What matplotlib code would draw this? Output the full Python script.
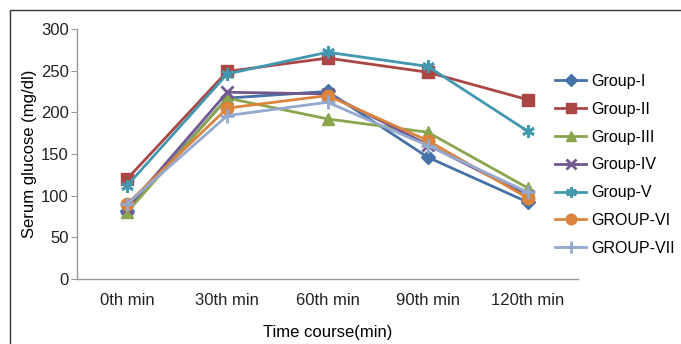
import numpy as np
import matplotlib
matplotlib.use("Agg")
import matplotlib.pyplot as plt
from matplotlib.patches import Rectangle

plt.rcParams['font.family'] = ['Liberation Sans', 'DejaVu Sans']

times = ['0th min', '30th min', '60th min', '90th min', '120th min']
groups = ['Group-I', 'Group-II', 'Group-III', 'Group-IV', 'Group-V', 'GROUP-VI', 'GROUP-VII']
group_1 = [82, 217, 225, 146, 92]
group_2 = [120, 249, 265, 248, 215]
group_3 = [80, 217, 192, 176, 109]
group_4 = [85, 224, 222, 161, 100]
group_5 = [112, 246, 272, 255, 177]
group_6 = [90, 205, 220, 166, 97]
group_7 = [90, 196, 212, 160, 104]

series = [group_1, group_2, group_3, group_4, group_5, group_6, group_7]
colors = ['#4572A7', '#AA4643', '#89A54E', '#71588F', '#4198AF', '#DB843D', '#93A9CF']
markers = ['D', 's', '^', 'x', (6, 2, 0), 'o', '+']
msizes = [7, 8, 8, 8, 9, 9, 10]

fig = plt.figure(figsize=(6.81, 3.44), dpi=100)
ax = fig.add_axes([0.113, 0.189, 0.736, 0.727])

x = np.arange(len(times))
for name, vals, c, m, ms in zip(groups, series, colors, markers, msizes):
    ax.plot(x, vals, color=c, lw=2, marker=m, markersize=ms,
            markeredgewidth=2 if m in ('x', '+') or isinstance(m, tuple) else 1,
            markeredgecolor=c, markerfacecolor=c, label=name)

ax.set_xlim(-0.5, 4.5)
ax.set_ylim(0, 300)
ax.set_yticks(range(0, 301, 50))
ax.set_xticks(x)
ax.set_xticklabels(times)
ax.tick_params(axis='x', length=0, pad=10, labelsize=12, labelcolor='#222222')
ax.tick_params(axis='y', length=4, direction='out', color='#999999', labelsize=12,
               labelcolor='#222222', pad=2)
for s in ['top', 'right']:
    ax.spines[s].set_visible(False)
for s in ['left', 'bottom']:
    ax.spines[s].set_color('#999999')
    ax.spines[s].set_linewidth(1)

ax.set_ylabel('Serum glucose (mg/dl)', fontsize=12, labelpad=3)
ax.set_xlabel('Time course(min)', fontsize=12, labelpad=12)

leg = fig.legend(loc='upper left', bbox_to_anchor=(555 / 681, 1 - 74 / 344), frameon=False,
                 fontsize=11.5, handlelength=1.95, handletextpad=0.3,
                 labelspacing=0.8, borderpad=0, borderaxespad=0, markerscale=0.85)

fig.patches.append(Rectangle((10 / 681, -0.1), 1.2, 1 - 10 / 344 + 0.1,
                             transform=fig.transFigure, fill=False,
                             edgecolor='#333333', lw=1))

fig.savefig('out.png', dpi=100)
